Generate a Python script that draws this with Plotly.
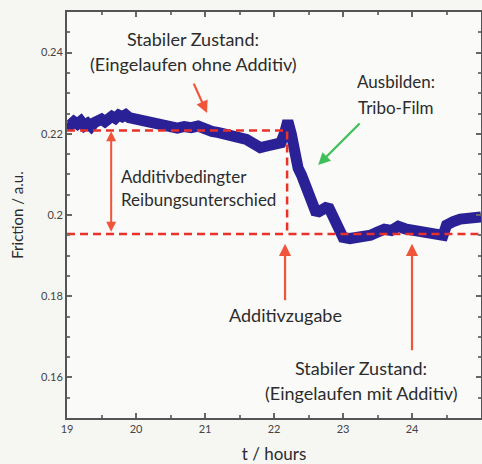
import plotly.graph_objects as go

# ---- data ----
t_hours = [19.0, 19.05, 19.1, 19.15, 19.2, 19.25, 19.3, 19.35, 19.4, 19.45,
           19.5, 19.55, 19.6, 19.65, 19.7, 19.75, 19.8, 19.85, 19.9, 19.95,
           20.0, 20.1, 20.2, 20.3, 20.4, 20.5, 20.6, 20.7, 20.8, 20.9,
           21.0, 21.1, 21.2, 21.3, 21.4, 21.5, 21.6, 21.7, 21.8, 21.9,
           22.0, 22.05, 22.1, 22.15, 22.2, 22.25, 22.3, 22.35, 22.4, 22.45,
           22.5, 22.55, 22.6, 22.65, 22.7, 22.75, 22.8, 22.85, 22.9, 22.95,
           23.0, 23.1, 23.2, 23.3, 23.4, 23.5, 23.6, 23.7, 23.8, 23.9,
           24.0, 24.1, 24.2, 24.3, 24.4, 24.45, 24.5, 24.55, 24.6, 24.7,
           24.8, 24.9, 25.0]
friction = [0.2226, 0.2222, 0.2230, 0.2224, 0.2231, 0.2220, 0.2226, 0.2218, 0.2228, 0.2232,
            0.2236, 0.2230, 0.2240, 0.2243, 0.2238, 0.2246, 0.2242, 0.2247, 0.2240, 0.2238,
            0.2233, 0.2228, 0.2224, 0.2222, 0.2220, 0.2216, 0.2214, 0.2218, 0.2215, 0.2219,
            0.2210, 0.2206, 0.2203, 0.2199, 0.2196, 0.2193, 0.2186, 0.2176, 0.2166, 0.2170,
            0.2174, 0.2170, 0.2178, 0.2200, 0.2232, 0.2200, 0.2150, 0.2115, 0.2098, 0.2075,
            0.2045, 0.2020, 0.2010, 0.2008, 0.2014, 0.2018, 0.2016, 0.2000, 0.1980, 0.1955,
            0.1945, 0.1942, 0.1944, 0.1946, 0.1950, 0.1958, 0.1965, 0.1962, 0.1972, 0.1966,
            0.1962, 0.1958, 0.1955, 0.1952, 0.1946, 0.1950, 0.1975, 0.1982, 0.1984, 0.1990,
            0.1992, 0.1995, 0.1995]

level_before = 0.2208      # steady state without additive
level_after = 0.1953       # steady state with additive
t_additive = 22.19         # time of additive addition

y_tickvals = [0.16, 0.18, 0.20, 0.22, 0.24]
y_ticktext = ["0.16", "0.18", "0.2", "0.22", "0.24"]
x_tickvals = [19, 20, 21, 22, 23, 24, 25]

BLUE = "#2b2196"
RED = "#e8322a"
ARROW = "#f0553a"
GREEN = "#3fbf5a"
TXT = "#2c2c2c"
FONT = "Lato"
BG = "#f6f6f3"

fig = go.Figure()
fig.add_trace(go.Scatter(x=t_hours, y=friction, mode="lines",
                         line=dict(color=BLUE, width=11), showlegend=False))
# dashed reference lines
fig.add_trace(go.Scatter(x=[t_hours[0], t_additive, t_additive, t_hours[-1]],
                         y=[level_before, level_before, level_after, level_after],
                         mode="lines", line=dict(color=RED, width=2.5, dash="8px,5px"),
                         showlegend=False))
fig.add_trace(go.Scatter(x=[t_hours[0], t_additive], y=[level_after, level_after],
                         mode="lines", line=dict(color=RED, width=2.5, dash="8px,5px"),
                         showlegend=False))

def txt(x, y, s, xanchor="center", size=18):
    fig.add_annotation(x=x, y=y, text=s, showarrow=False, xanchor=xanchor,
                       font=dict(family=FONT, size=size, color=TXT))

txt(20.83, 0.2434, "Stabiler Zustand:")
txt(20.83, 0.2372, "(Eingelaufen ohne Additiv)")
txt(23.77, 0.2328, "Ausbilden:", size=17)
txt(23.77, 0.2266, "Tribo-Film", size=17)
txt(19.75, 0.2096, "Additivbedingter", xanchor="left", size=17)
txt(19.75, 0.2039, "Reibungsunterschied", xanchor="left", size=17)
txt(22.16, 0.1754, "Additivzugabe")
txt(23.26, 0.1623, "Stabiler Zustand:")
txt(23.26, 0.1562, "(Eingelaufen mit Additiv)")

def arrow(x, y, ax, ay, color):
    fig.add_annotation(x=x, y=y, ax=ax, ay=ay, text="", showarrow=True,
                       arrowhead=2, arrowsize=1.1, arrowwidth=2.2, arrowcolor=color)

arrow(21.03, 0.2251, -14, -31, ARROW)
arrow(22.64, 0.2123, 43, -43, GREEN)
arrow(22.16, 0.1929, 0, 58, ARROW)
arrow(24.0, 0.1929, 0, 108, ARROW)
# double-headed arrow for friction difference
fig.add_annotation(x=19.64, y=level_before - 0.0002, ax=19.64, ay=level_after + 0.0002,
                   axref="x", ayref="y", text="", showarrow=True,
                   arrowhead=2, startarrowhead=2, arrowside="end+start",
                   arrowsize=1.0, startarrowsize=1.0, arrowwidth=2, arrowcolor=ARROW)

axis_common = dict(showline=True, linecolor="#555555", linewidth=2, mirror="ticks",
                   ticks="inside", ticklen=5, tickwidth=1.5, tickcolor="#666666",
                   showgrid=False, zeroline=False,
                   tickfont=dict(family=FONT, size=11, color="#444444"))

fig.update_xaxes(range=[19, 25], tickvals=x_tickvals,
                 minor=dict(dtick=0.5, ticks="inside", ticklen=3, tickcolor="#777777"),
                 title=dict(text="t / hours", font=dict(family=FONT, size=17, color=TXT),
                            standoff=16),
                 **axis_common)
fig.update_yaxes(range=[0.15, 0.25], tickvals=y_tickvals, ticktext=y_ticktext,
                 minor=dict(tickvals=[0.155, 0.165, 0.17, 0.175, 0.185, 0.19, 0.195,
                                      0.205, 0.21, 0.215, 0.225, 0.23, 0.235, 0.245],
                            ticks="inside", ticklen=3, tickcolor="#777777"),
                 title=dict(text="Friction / a.u.", font=dict(family=FONT, size=15, color=TXT),
                            standoff=14),
                 **axis_common)

fig.update_layout(width=482, height=464,
                  margin=dict(l=67, r=1, t=12, b=46, autoexpand=False),
                  paper_bgcolor=BG, plot_bgcolor="#fafaf8",
                  showlegend=False)

fig.write_html("out.html", config={"displayModeBar": False},
               post_script="document.body.style.margin='0';"
                           "document.body.style.background='" + BG + "';")
